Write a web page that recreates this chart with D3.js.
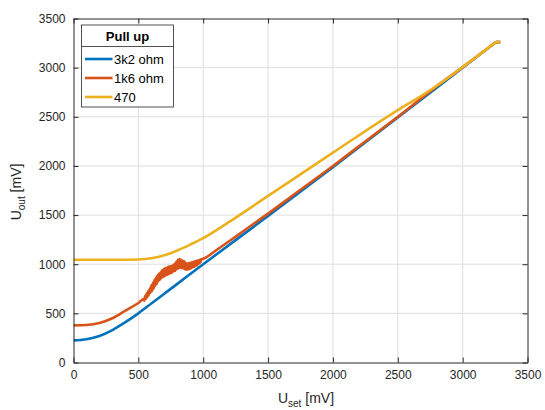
<!DOCTYPE html>
<html>
<head>
<meta charset="utf-8">
<script src="https://cdn.jsdelivr.net/npm/d3@7"></script>
<style>
  body { margin: 0; background: #fff; }
  svg { font-family: "Liberation Sans", Arial, sans-serif; }
</style>
</head>
<body>
<div id="chart"></div>
<script>
// mV
var seriesNames = ["3k2 ohm", "1k6 ohm", "470"];
var seriesColors = ["#0072BD", "#D95319", "#EDB120"];

var blueX = [0, 100, 200, 300, 400, 500, 600, 700, 800, 1000, 1500, 2000, 2500, 3000, 3200, 3250, 3260, 3290];
var blueY = [225, 237, 270, 330, 410, 500, 600, 700, 800, 1000, 1490, 1988, 2492, 3000, 3203, 3253, 3260, 3260];

// 1k6 trace, noisy between ~540 and ~990
var redX = [0, 100, 200, 300, 400, 500,
  540, 546, 552, 558, 564, 570, 576, 582, 588, 594, 600, 606, 612, 618, 624, 630, 636, 642, 648, 654,
  660, 666, 672, 678, 684, 690, 696, 702, 708, 714, 720, 726, 732, 738, 744, 750, 756, 762, 768, 774,
  780, 786, 792, 798, 804, 810, 816, 822, 828, 834, 840, 846, 852, 858, 864, 870, 876, 882, 888, 894,
  900, 906, 912, 918, 924, 930, 936, 942, 948, 954, 960, 966, 972, 978, 984,
  1000, 1100, 1200, 1300, 1400, 1500, 1750, 2000, 2200, 2500, 2823, 3000, 3200, 3250, 3260, 3290];
var redY = [378, 382, 402, 450, 528, 605,
  645, 628, 675, 648, 705, 665, 728, 688, 752, 710, 785, 726, 810, 750, 842, 778, 865, 798, 890, 828,
  905, 840, 920, 858, 940, 870, 952, 878, 962, 888, 966, 892, 975, 902, 980, 908, 982, 915, 995, 928,
  1005, 932, 1028, 952, 1045, 958, 1052, 965, 1048, 960, 1038, 958, 1032, 948, 1018, 943, 1008, 946, 1012, 952,
  1015, 958, 1020, 966, 1025, 973, 1030, 983, 1034, 990, 1040, 1003, 1046, 1016, 1050,
  1055, 1142, 1234, 1328, 1422, 1515, 1757, 2000, 2200, 2500, 2835, 3005, 3203, 3253, 3260, 3260];

var yellowX = [0, 300, 500, 600, 700, 800, 900, 1000, 1100, 1200, 1500, 2000, 2500, 2700, 2823, 3000, 3200, 3250, 3260, 3290];
var yellowY = [1045, 1045, 1048, 1060, 1090, 1140, 1200, 1265, 1345, 1430, 1695, 2135, 2568, 2728, 2836, 3005, 3203, 3253, 3260, 3260];

var xTicks = [0, 500, 1000, 1500, 2000, 2500, 3000, 3500];
var yTicks = [0, 500, 1000, 1500, 2000, 2500, 3000, 3500];

var width = 545, height = 410;
var plot = { left: 73.5, right: 527.5, top: 18.5, bottom: 362.5 };

var svg = d3.select("#chart").append("svg")
  .attr("width", width)
  .attr("height", height);

var x = d3.scaleLinear().domain([0, 3500]).range([plot.left, plot.right]);
var y = d3.scaleLinear().domain([0, 3500]).range([plot.bottom, plot.top]);

// grid
var grid = svg.append("g");
grid.selectAll(".gx").data(xTicks.slice(1, -1)).enter().append("line")
  .attr("x1", d => x(d)).attr("x2", d => x(d))
  .attr("y1", plot.top).attr("y2", plot.bottom)
  .attr("stroke", "#dfdfdf").attr("stroke-width", 1);
grid.selectAll(".gy").data(yTicks.slice(1, -1)).enter().append("line")
  .attr("y1", d => y(d)).attr("y2", d => y(d))
  .attr("x1", plot.left).attr("x2", plot.right)
  .attr("stroke", "#dfdfdf").attr("stroke-width", 1);

// lines
var line = d3.line()
  .x(d => x(d[0]))
  .y(d => y(d[1]))
  .curve(d3.curveMonotoneX);

var allX = [blueX, redX, yellowX];
var allY = [blueY, redY, yellowY];

svg.append("defs").append("clipPath").attr("id", "clip")
  .append("rect")
  .attr("x", plot.left).attr("y", plot.top)
  .attr("width", plot.right - plot.left).attr("height", plot.bottom - plot.top);

var lines = svg.append("g").attr("clip-path", "url(#clip)");
allX.forEach(function(xs, i) {
  var pts = xs.map((v, j) => [v, allY[i][j]]);
  lines.append("path")
    .datum(pts)
    .attr("d", line)
    .attr("fill", "none")
    .attr("stroke", seriesColors[i])
    .attr("stroke-width", 2.6)
    .attr("stroke-linejoin", "round");
});

// axes (matlab style, ticks inside, box on)
var axisColor = "#262626";
var fmt = d3.format("d");
var xAxis = d3.axisBottom(x).tickValues(xTicks).tickFormat(fmt).tickSizeInner(-5).tickSizeOuter(0).tickPadding(8);
var yAxis = d3.axisLeft(y).tickValues(yTicks).tickFormat(fmt).tickSizeInner(-5).tickSizeOuter(0).tickPadding(8);

var gx = svg.append("g").attr("transform", `translate(0, ${plot.bottom})`).call(xAxis);
var gy = svg.append("g").attr("transform", `translate(${plot.left}, 0)`).call(yAxis);
var gxTop = svg.append("g").attr("transform", `translate(0, ${plot.top})`)
  .call(d3.axisTop(x).tickValues(xTicks).tickSizeInner(-5).tickSizeOuter(0).tickFormat(""));
var gyRight = svg.append("g").attr("transform", `translate(${plot.right}, 0)`)
  .call(d3.axisRight(y).tickValues(yTicks).tickSizeInner(-5).tickSizeOuter(0).tickFormat(""));

[gx, gy, gxTop, gyRight].forEach(function(g) {
  g.select(".domain").attr("stroke", axisColor).attr("stroke-width", 1);
  g.selectAll(".tick line").attr("stroke", axisColor);
  g.selectAll(".tick text").attr("fill", axisColor).attr("font-size", "12px")
    .attr("font-family", "Liberation Sans, Arial, sans-serif");
});

// axis labels
var xl = svg.append("text")
  .attr("x", 306).attr("y", 403)
  .attr("text-anchor", "middle")
  .attr("fill", axisColor)
  .attr("font-size", "14px");
xl.append("tspan").text("U");
xl.append("tspan").attr("dy", 4).attr("font-size", "10px").text("set");
xl.append("tspan").attr("dy", -4).text(" [mV]");

var yl = svg.append("text")
  .attr("transform", "translate(21, 192) rotate(-90)")
  .attr("text-anchor", "middle")
  .attr("fill", axisColor)
  .attr("font-size", "14px");
yl.append("tspan").text("U");
yl.append("tspan").attr("dy", 4).attr("font-size", "10px").text("out");
yl.append("tspan").attr("dy", -4).text(" [mV]");

// legend
var lg = svg.append("g");
var box = { x: 81.5, y: 25, w: 92, h: 82 };
lg.append("rect")
  .attr("x", box.x).attr("y", box.y)
  .attr("width", box.w).attr("height", box.h)
  .attr("fill", "#fff").attr("stroke", axisColor).attr("stroke-width", 0.8);
lg.append("line")
  .attr("x1", box.x).attr("x2", box.x + box.w)
  .attr("y1", 46.5).attr("y2", 46.5)
  .attr("stroke", axisColor).attr("stroke-width", 0.8);
lg.append("text")
  .attr("x", box.x + box.w / 2).attr("y", 41)
  .attr("text-anchor", "middle")
  .attr("font-size", "13px").attr("font-weight", "bold")
  .attr("fill", "#000")
  .text("Pull up");

var entryY = [59, 78, 97];
seriesNames.forEach(function(name, i) {
  lg.append("line")
    .attr("x1", 85).attr("x2", 112.5)
    .attr("y1", entryY[i]).attr("y2", entryY[i])
    .attr("stroke", seriesColors[i]).attr("stroke-width", 2.6);
  lg.append("text")
    .attr("x", 114).attr("y", entryY[i] + 4.5)
    .attr("font-size", "13px")
    .attr("fill", "#000")
    .text(name);
});
</script>
</body>
</html>
